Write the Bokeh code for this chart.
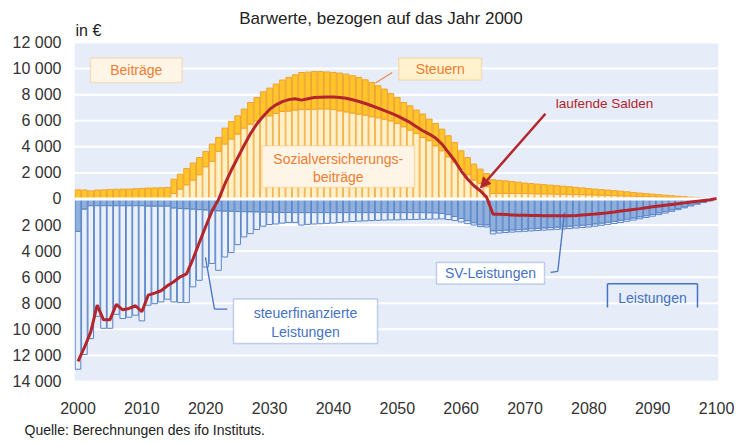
from bokeh.plotting import figure
from bokeh.models import (ColumnDataSource, FixedTicker, Label, BoxAnnotation, Arrow, NormalHead,
                          Span, Title)
from bokeh.embed import file_html
from bokeh.resources import INLINE

# ---------------- data (Barwerte in €, bezogen auf das Jahr 2000) ----------------
years = list(range(2000, 2100))
saldo_years = list(range(2000, 2101))

sv_beitraege = [0] * 15 + [
    420, 760, 1090, 1450, 1860, 2470, 2880, 3650, 4210, 4600, 4980, 5440, 5740, 5990, 6310, 6380, 6560, 6710, 6740, 6820, 6870,
    6860, 6880, 6910, 6910, 6860, 6760, 6680, 6590, 6510, 6430, 6310, 6230, 6120, 5990, 5790, 5540, 5290, 5020, 4720, 4470,
    4080, 3700, 3230, 2800, 2290, 1860, 1450, 1190, 940,
    430, 430, 425, 425, 420, 415, 410, 400, 390, 385, 375, 365, 355, 340, 330, 320, 305, 290, 275, 260,
    245, 230, 215, 200, 185, 170, 150, 130, 115, 95, 80, 60, 40, 25, 10]

steuern = [
    700, 690, 620, 680, 700, 730, 750, 760, 760, 790, 810, 840, 850, 860, 880,
    1100, 1145, 1250, 1305, 1320, 1175, 1330, 1070, 1225, 1340, 1395, 1455, 1660, 1790, 1910, 2120, 2255, 2410, 2580, 2700, 2830,
    2865, 2895, 2865, 2835, 2845, 2895, 2895, 2860, 2810, 2710, 2630, 2455, 2310, 2095, 1995, 1860, 1855, 1800, 1790, 1655,
    1710, 1655, 1620, 1535, 1405, 1320, 1225, 1100, 1020,
    1040, 1000, 965, 915, 870, 805, 770, 740, 710, 675, 645, 615, 585, 550, 520, 480, 455, 430, 405, 380,
    355, 320, 285, 250, 225, 200, 180, 160, 135, 115, 90, 70, 50, 35, 20]

sv_leistungen = [-2490, -780] + [-520] * 9 + [-550] * 4 + [
    -700, -730, -760, -790, -820, -850, -900, -920, -940, -950, -970, -980, -990, -1000, -1010,
    -1020, -1030, -1040, -1040] + [-1050] * 21 + [
    -1060, -1080, -1120, -1200, -1350, -1500, -1670, -1830, -1980, -2000,
    -2450, -2430, -2400, -2380, -2350, -2320, -2290, -2260, -2230, -2200, -2170, -2140, -2100, -2060, -2020,
    -1980, -1920, -1860, -1790, -1720, -1640, -1560, -1470, -1380, -1290, -1190, -1080, -970, -850, -730,
    -600, -470, -350, -230, -110]

steuerfinanzierte_leistungen = [
    -10570, -11150, -10190, -8480, -9400, -9400, -8330, -8650, -8550, -8400,
    -8830, -7600, -7480, -7350, -7140, -7200, -7220, -7190, -5950, -5420,
    -4370, -4050, -4550, -3510, -3160, -2530, -1930, -1670, -1340, -1080,
    -940, -890, -810, -760, -750, -950, -900, -870, -850, -820,
    -800, -750, -710, -680, -650, -630, -610, -590, -570, -560,
    -550, -540, -530, -520, -510, -490, -460, -410, -380, -300,
    -260, -220, -170, -140, -150, -230, -180, -170, -160, -160,
    -160, -160, -160, -160, -160, -160, -160, -170, -170, -170,
    -170, -170, -160, -160, -160, -160, -150, -150, -140, -130,
    -130, -120, -110, -100, -90, -80, -70, -50, -40, -30]

laufende_salden = [
    -12460, -11390, -10190, -8140, -9270, -9270, -8090, -8500, -8400, -8190,
    -8650, -7370, -7220, -7040, -6660, -6350, -5970, -5740, -4610, -3340,
    -2110, -900, -50, 1150, 2200, 3150, 4100, 5000, 5750, 6350,
    6870, 7220, 7470, 7620, 7690, 7580, 7680, 7780, 7810, 7830,
    7830, 7790, 7730, 7610, 7480, 7320, 7150, 6970, 6770, 6590,
    6380, 6130, 5870, 5540, 5230, 4980, 4670, 4210, 3570, 2930,
    2160, 1530, 1010, 630, 120, -1170, -1180, -1200, -1220, -1240,
    -1250, -1260, -1270, -1280, -1290, -1290, -1290, -1280, -1260, -1230,
    -1200, -1160, -1110, -1060, -1000, -930, -870, -800, -740, -670,
    -600, -540, -480, -420, -360, -300, -240, -180, -120, -60,
    30]

y_ticks = list(range(-14000, 12001, 2000))
x_ticks = list(range(2000, 2101, 10))

# ---------------- styling ----------------
FONT = "Liberation Sans"
ORANGE_TXT = "#ED7D31"
BLUE_TXT = "#4472C4"
RED = "#B3262E"
ORANGE_BORDER = "#F5B25A"
PANEL_BG = "#E6ECF8"

src = ColumnDataSource(dict(year=years, sv_beitraege=sv_beitraege, steuern=steuern,
                            sv_leistungen=sv_leistungen,
                            steuerfinanzierte_leistungen=steuerfinanzierte_leistungen))

# frame covers the title area too; the blue panel only spans -14000..12000
p = figure(width=743, height=443, title=None,
           min_border_left=74, min_border_right=25, min_border_top=0, min_border_bottom=62,
           x_range=(1999.45, 2100.3), y_range=(-14000, 15223),
           output_backend="svg", toolbar_location=None)
p.background_fill_color = "white"
p.border_fill_color = "white"
p.outline_line_color = None
p.xgrid.grid_line_color = None
p.ygrid.grid_line_color = None

p.add_layout(BoxAnnotation(bottom=-14000, top=12000, fill_color=PANEL_BG, fill_alpha=1,
                           line_color=None, level="underlay"))
for t in y_ticks:
    p.add_layout(Span(location=t, dimension="width", line_color="white", line_width=2, level="underlay"))

p.vbar_stack(["sv_beitraege", "steuern"], x="year", width=0.88, source=src,
             fill_color=["#FFF0C7", "#FFC52A"], line_color=["#F5B04A", "#F2A22E"], line_width=1)
p.vbar_stack(["sv_leistungen", "steuerfinanzierte_leistungen"], x="year", width=0.88, source=src,
             fill_color=["#8FB0DC", "#EAF0FA"], line_color=["#5B85C8", "#5B85C8"], line_width=1)

p.add_layout(Span(location=0, dimension="width", line_color="white", line_width=3))

salden = p.line(saldo_years, laufende_salden, line_color=RED, line_width=3)
salden.level = "overlay"

# axes
p.yaxis.ticker = FixedTicker(ticks=y_ticks)
p.yaxis.major_label_overrides = {t: (f"{abs(t):,}".replace(",", " ")) for t in y_ticks}
p.xaxis.ticker = FixedTicker(ticks=x_ticks)
p.xaxis.major_label_overrides = {t: str(t) for t in x_ticks}
for ax in (p.xaxis[0], p.yaxis[0]):
    ax.axis_line_color = None
    ax.major_tick_line_color = None
    ax.minor_tick_line_color = None
    ax.major_tick_out = 0
    ax.minor_tick_out = 0
    ax.major_label_text_font = FONT
    ax.major_label_text_font_size = "16px"
    ax.major_label_text_color = "#333333"
p.yaxis.major_label_standoff = 13
p.xaxis.major_label_standoff = 20

p.add_layout(Title(text="Quelle: Berechnungen des ifo Instituts.", text_font=FONT, text_font_size="14px",
                   text_font_style="normal", text_color="#222222", align="left", offset=-50, standoff=6),
             "below")


def label(x, y, text, color, size="14px", align="center"):
    p.add_layout(Label(x=x, y=y, text=text, text_align=align, text_baseline="middle",
                       text_font=FONT, text_font_size=size, text_color=color))


def seg(x0, y0, x1, y1, color, width=1.3):
    p.add_layout(Arrow(end=None, x_start=x0, y_start=y0, x_end=x1, y_end=y1,
                       line_color=color, line_width=width))


# title and unit
label(2047.45, 13821, "Barwerte, bezogen auf das Jahr 2000", "#222222", "17px")
label(1999.61, 12939, "in €", "#222222", "16px", "left")

# Beiträge box
p.add_layout(BoxAnnotation(left=2001.96, right=2016.31, top=10807, bottom=8936,
                           fill_color="#FFF5E6", fill_alpha=1, line_color=ORANGE_BORDER, line_width=1.5))
label(2009.13, 9872, "Beiträge", ORANGE_TXT)

# Steuern box
p.add_layout(BoxAnnotation(left=2050.23, right=2063.18, top=10807, bottom=9120,
                           fill_color="#FFF2CC", fill_alpha=1, line_color=ORANGE_BORDER, line_width=1.5))
label(2056.71, 9963, "Steuern", ORANGE_TXT)
seg(2049.2, 9703, 2046.58, 8890, "#F08A50", 1.2)

# Sozialversicherungsbeiträge box
p.add_layout(BoxAnnotation(left=2028.84, right=2052.69, top=4080, bottom=882,
                           fill_color="#FFF5E6", fill_alpha=1, line_color=ORANGE_BORDER, line_width=1.5))
label(2040.76, 3060, "Sozialversicherungs-", ORANGE_TXT)
label(2040.76, 1649, "beiträge", ORANGE_TXT)

# laufende Salden
label(2082.44, 7302, "laufende Salden", RED, "13.5px")
p.add_layout(Arrow(end=NormalHead(size=10, fill_color=RED, line_color=RED),
                   x_start=2073.2, y_start=6535, x_end=2063.03, y_end=859,
                   line_color=RED, line_width=2.5))

# steuerfinanzierte Leistungen box
p.add_layout(BoxAnnotation(left=2024.35, right=2046.9, top=-7678, bottom=-11083,
                           fill_color="white", fill_alpha=1, line_color=BLUE_TXT, line_width=1.5))
label(2035.62, -8728, "steuerfinanzierte", BLUE_TXT)
label(2035.62, -10186, "Leistungen", BLUE_TXT)
seg(2019.96, -4487, 2021.37, -8445, BLUE_TXT)
seg(2021.37, -8445, 2023.36, -8445, BLUE_TXT)

# SV-Leistungen box
p.add_layout(BoxAnnotation(left=2056.14, right=2073.05, top=-4870, bottom=-6527,
                           fill_color="white", fill_alpha=1, line_color=BLUE_TXT, line_width=1.5))
label(2064.59, -5699, "SV-Leistungen", BLUE_TXT)
seg(2074.0, -5637, 2075.13, -5561, BLUE_TXT)
seg(2075.13, -5561, 2076.18, -1035, BLUE_TXT)

# Leistungen box (open at the bottom)
seg(2082.91, -8322, 2082.91, -6504, BLUE_TXT, 1.5)
seg(2082.91, -6504, 2097.01, -6504, BLUE_TXT, 1.5)
seg(2097.01, -6504, 2097.01, -8322, BLUE_TXT, 1.5)
label(2089.96, -7616, "Leistungen", BLUE_TXT)

open("out.html", "w").write(file_html(p, INLINE))
